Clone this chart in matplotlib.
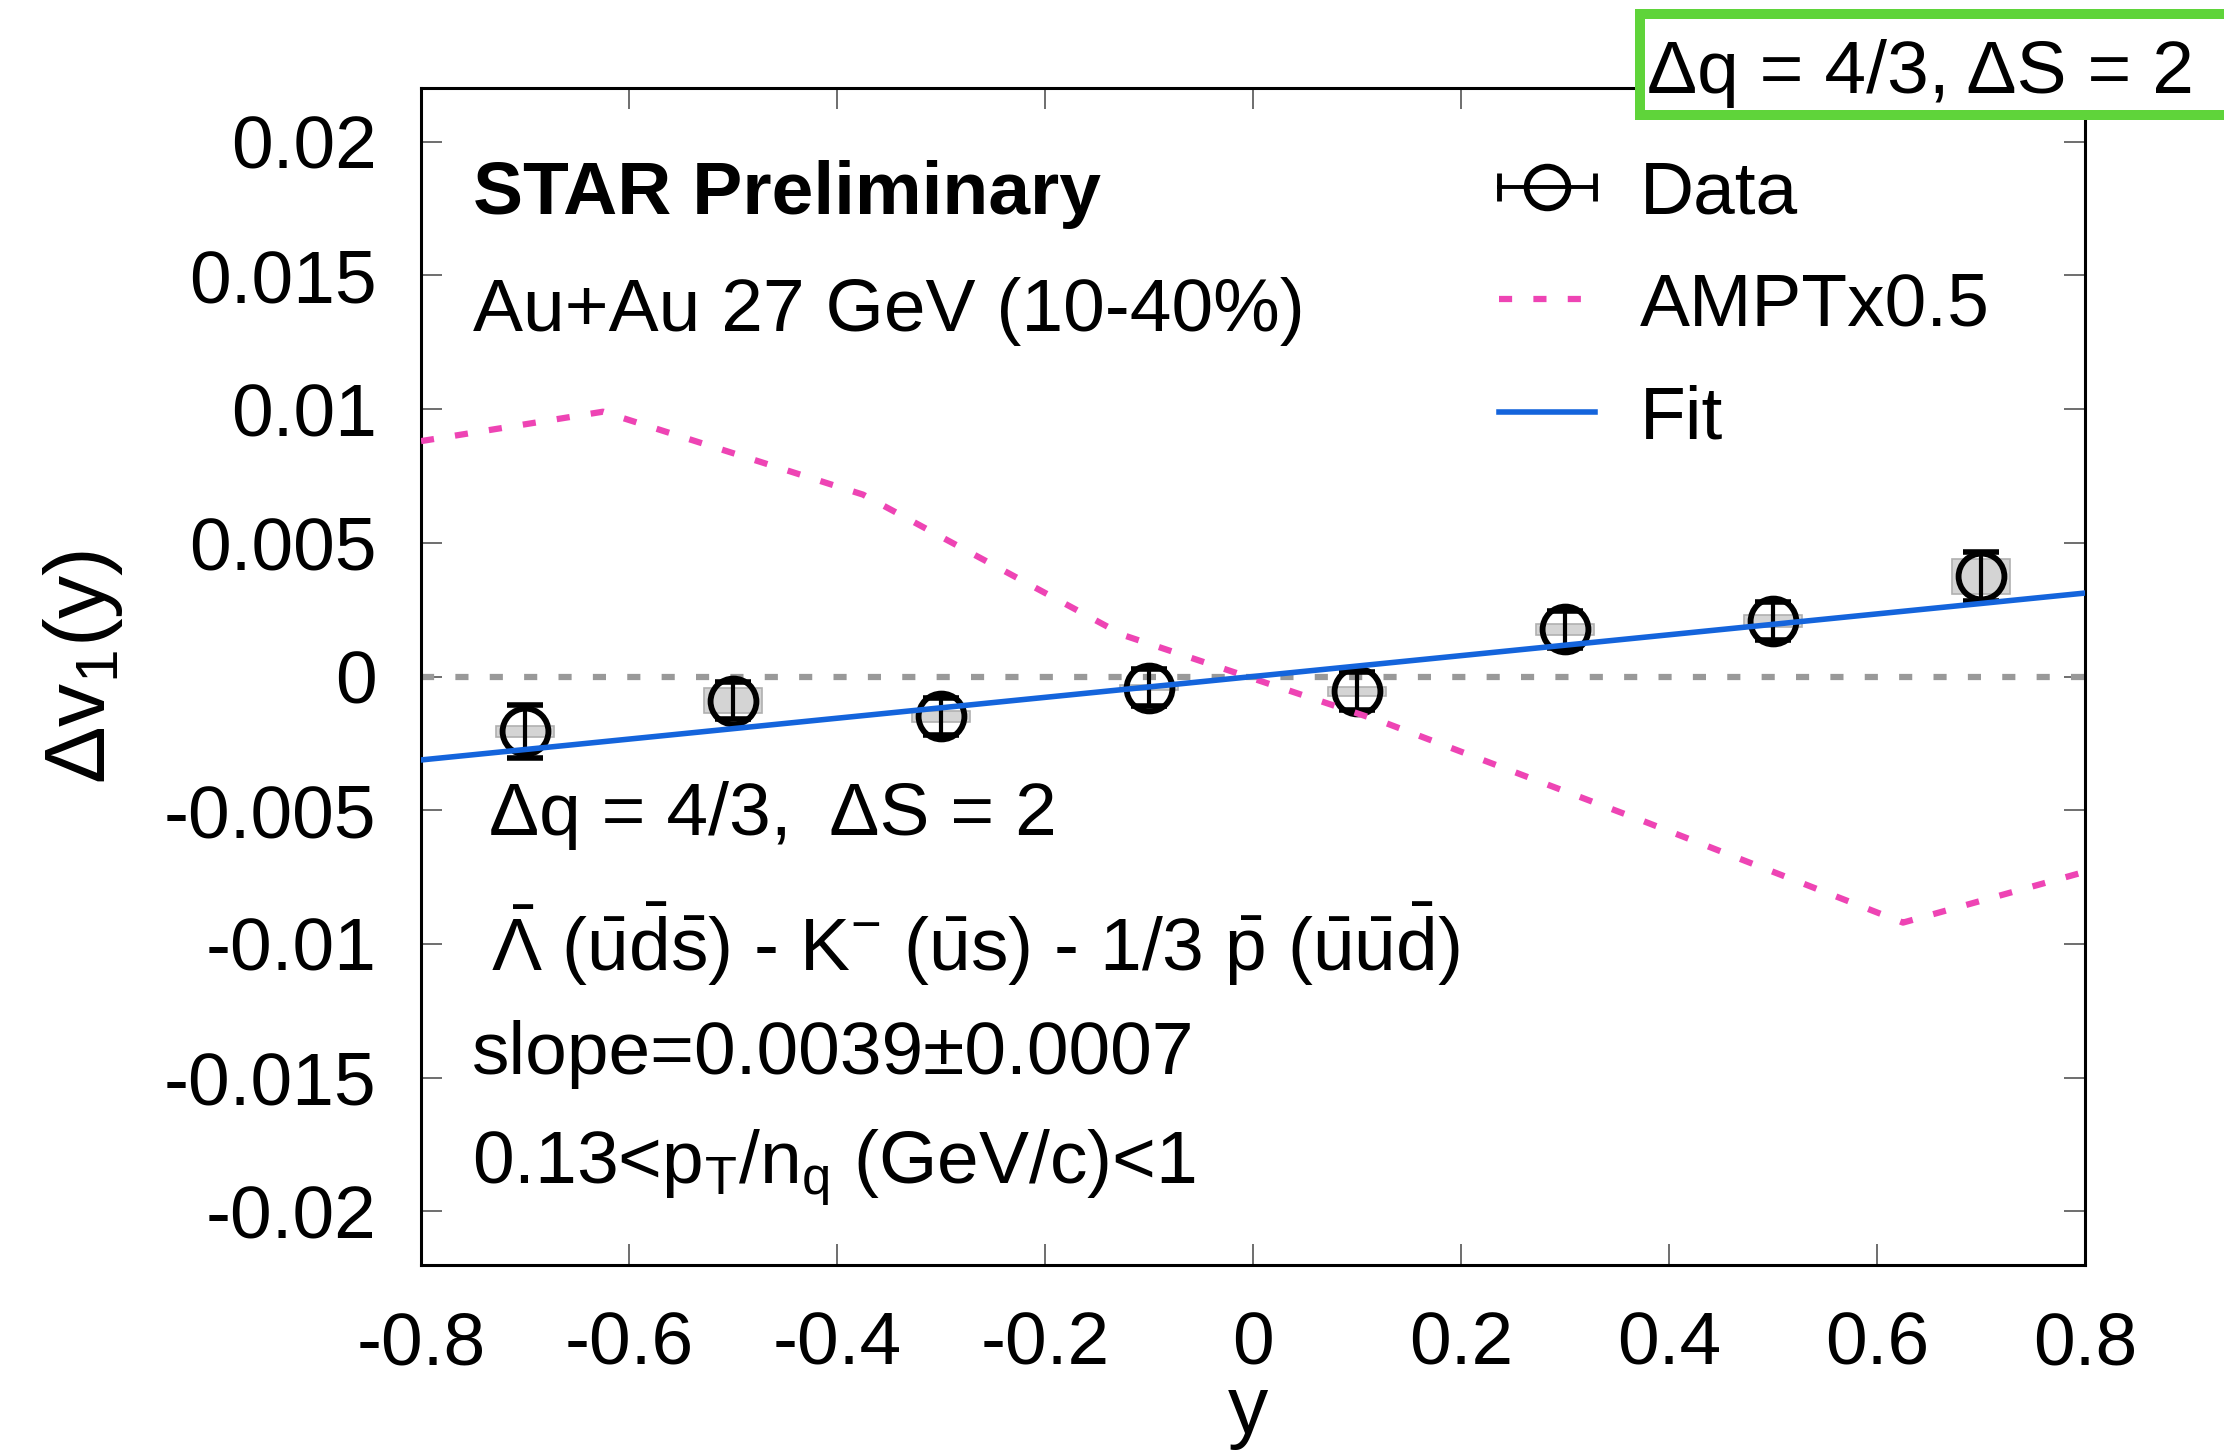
import numpy as np
import matplotlib
matplotlib.use("Agg")
import matplotlib.pyplot as plt
from matplotlib.lines import Line2D
from matplotlib.patches import Rectangle
from matplotlib.legend_handler import HandlerBase

plt.rcParams['font.family'] = ['Liberation Sans', 'DejaVu Sans']
plt.rcParams['mathtext.fontset'] = 'custom'
plt.rcParams['mathtext.rm'] = 'Liberation Sans'
plt.rcParams['mathtext.it'] = 'Liberation Sans:italic'
plt.rcParams['mathtext.bf'] = 'Liberation Sans:bold'

# measured dv1 (Lambda-bar - K- - 1/3 p-bar)
y_rap = [-0.7, -0.5, -0.3, -0.1, 0.1, 0.3, 0.5, 0.7]
dv1 = [-0.00205, -0.0009, -0.00149, -0.00042, -0.00055, 0.00176, 0.00207, 0.00374]
dv1_stat = [0.0010, 0.0007, 0.0007, 0.0007, 0.0007, 0.0007, 0.0007, 0.0009]
dv1_sys = [0.0002, 0.00047, 0.0002, 0.0001, 0.00017, 0.00022, 0.00022, 0.00064]

# AMPT prediction scaled by 0.5
ampt_y = [-0.8, -0.625, -0.375, -0.125, 0.125, 0.375, 0.625, 0.8]
ampt_dv1 = [0.0088, 0.0099, 0.0068, 0.00155, -0.0017, -0.0054, -0.0092, -0.0073]

# linear fit
slope = 0.0039
fit_range = [-0.8, 0.8]

pink = '#ee44b4'
blue = '#1464dc'
green = '#5fd43a'
fs = 54
dash = (0, (2.1, 3.4))

MS, MEW = 33, 4.2


class DataHandler(HandlerBase):
    # horizontal bar with end caps and an open circle on top
    def create_artists(self, legend, orig_handle, xdescent, ydescent,
                       width, height, fontsize, trans):
        yc = (height - ydescent) / 2
        x0, x1 = -xdescent, width - xdescent
        bar = Line2D([x0, x1], [yc, yc], color='k', lw=2.8, transform=trans)
        caps = Line2D([x0, x1], [yc, yc], ls='none', marker='|', ms=20,
                      mew=3.5, color='k', transform=trans)
        circ = Line2D([(x0 + x1) / 2], [yc], ls='none', marker='o', ms=MS - 3,
                      mfc='none', mec='k', mew=MEW, transform=trans)
        return [bar, caps, circ]


fig = plt.figure(figsize=(22.24, 14.55), dpi=100)
ax = fig.add_axes([0.1893, 0.1306, 0.7482, 0.8089])

ax.bar(y_rap, 2 * np.array(dv1_sys), bottom=np.array(dv1) - np.array(dv1_sys),
       width=0.056, color='#d4d4d4', edgecolor='#b0b0b0', linewidth=1.2, zorder=1)
ax.axhline(0, color='#999999', lw=4.5, ls=dash, zorder=2)
ax.errorbar(y_rap, dv1, yerr=dv1_stat, fmt='none', ecolor='k', elinewidth=3,
            capsize=13, capthick=4, zorder=3)
data_line, = ax.plot(y_rap, dv1, ls='none', marker='o', ms=MS, mfc='none',
                     mec='k', mew=MEW, zorder=3)
ampt_line, = ax.plot(ampt_y, ampt_dv1, color=pink, lw=4.5, ls=dash, zorder=4)
fx = np.array(fit_range)
fit_line, = ax.plot(fx, slope * fx, color=blue, lw=4, zorder=5)

ax.set_xlim(-0.8, 0.8)
ax.set_ylim(-0.022, 0.022)
ax.set_xticks([-0.8, -0.6, -0.4, -0.2, 0, 0.2, 0.4, 0.6, 0.8])
ax.set_xticklabels(['-0.8', '-0.6', '-0.4', '-0.2', '0', '0.2', '0.4', '0.6', '0.8'])
ax.set_yticks([-0.02, -0.015, -0.01, -0.005, 0, 0.005, 0.01, 0.015, 0.02])
ax.set_yticklabels(['-0.02', '-0.015', '-0.01', '-0.005', '0', '0.005', '0.01', '0.015', '0.02'])
ax.tick_params(which='both', direction='in', top=True, right=True, length=15,
               width=1.2, color='#555555', labelsize=fs)
ax.tick_params(axis='y', pad=32)
ax.tick_params(axis='x', pad=33)
for sp in ax.spines.values():
    sp.set_linewidth(2.2)

ax.set_xlabel('y', fontsize=58)
ax.set_ylabel('Δv$_{1}$(y)', fontsize=62)
ax.xaxis.set_label_coords(0.497, -0.093)
ax.yaxis.set_label_coords(-0.178, 0.508)

ax.text(-0.75, 0.01729, 'STAR Preliminary', fontsize=fs, fontweight='bold', va='baseline')
ax.text(-0.75, 0.0129, 'Au+Au 27 GeV (10-40%)', fontsize=fs, va='baseline')
ax.text(-0.735, -0.00593, 'Δq = 4/3,  ΔS = 2', fontsize=fs, va='baseline')
ax.text(-0.733, -0.0110,
        r'$\bar{\Lambda}$ ($\bar{\rm u}\bar{\rm d}\bar{\rm s}$) - K$^{-}$ ($\bar{\rm u}$s) - 1/3 '
        r'$\bar{\rm p}$ ($\bar{\rm u}\bar{\rm u}\bar{\rm d}$)', fontsize=fs, va='baseline')
ax.text(-0.751, -0.01485, 'slope=0.0039±0.0007', fontsize=fs, va='baseline')
ax.text(-0.751, -0.0190, r'0.13<p$_{\rm T}$/n$_{\rm q}$ (GeV/c)<1', fontsize=fs, va='baseline')

ax.legend([data_line, ampt_line, fit_line], ['Data', 'AMPTx0.5', 'Fit'],
          handler_map={data_line: DataHandler()},
          loc='upper left', bbox_to_anchor=(0.648, 0.9396), frameon=False, fontsize=fs,
          borderpad=0, borderaxespad=0, handlelength=1.27, handletextpad=0.6,
          labelspacing=0.58)

# framed header in the upper right corner
W, H = 2224, 1455
fig.patches.append(Rectangle((1640 / W, 1 - 115 / H), 600 / W, 101 / H,
                             transform=fig.transFigure, fc='white', ec=green,
                             lw=7.2, zorder=5))
fig.text(1647 / W, 1 - 93 / H, 'Δq = 4/3, ΔS = 2', fontsize=fs, va='baseline', zorder=6)

fig.savefig('out.png', dpi=100)
